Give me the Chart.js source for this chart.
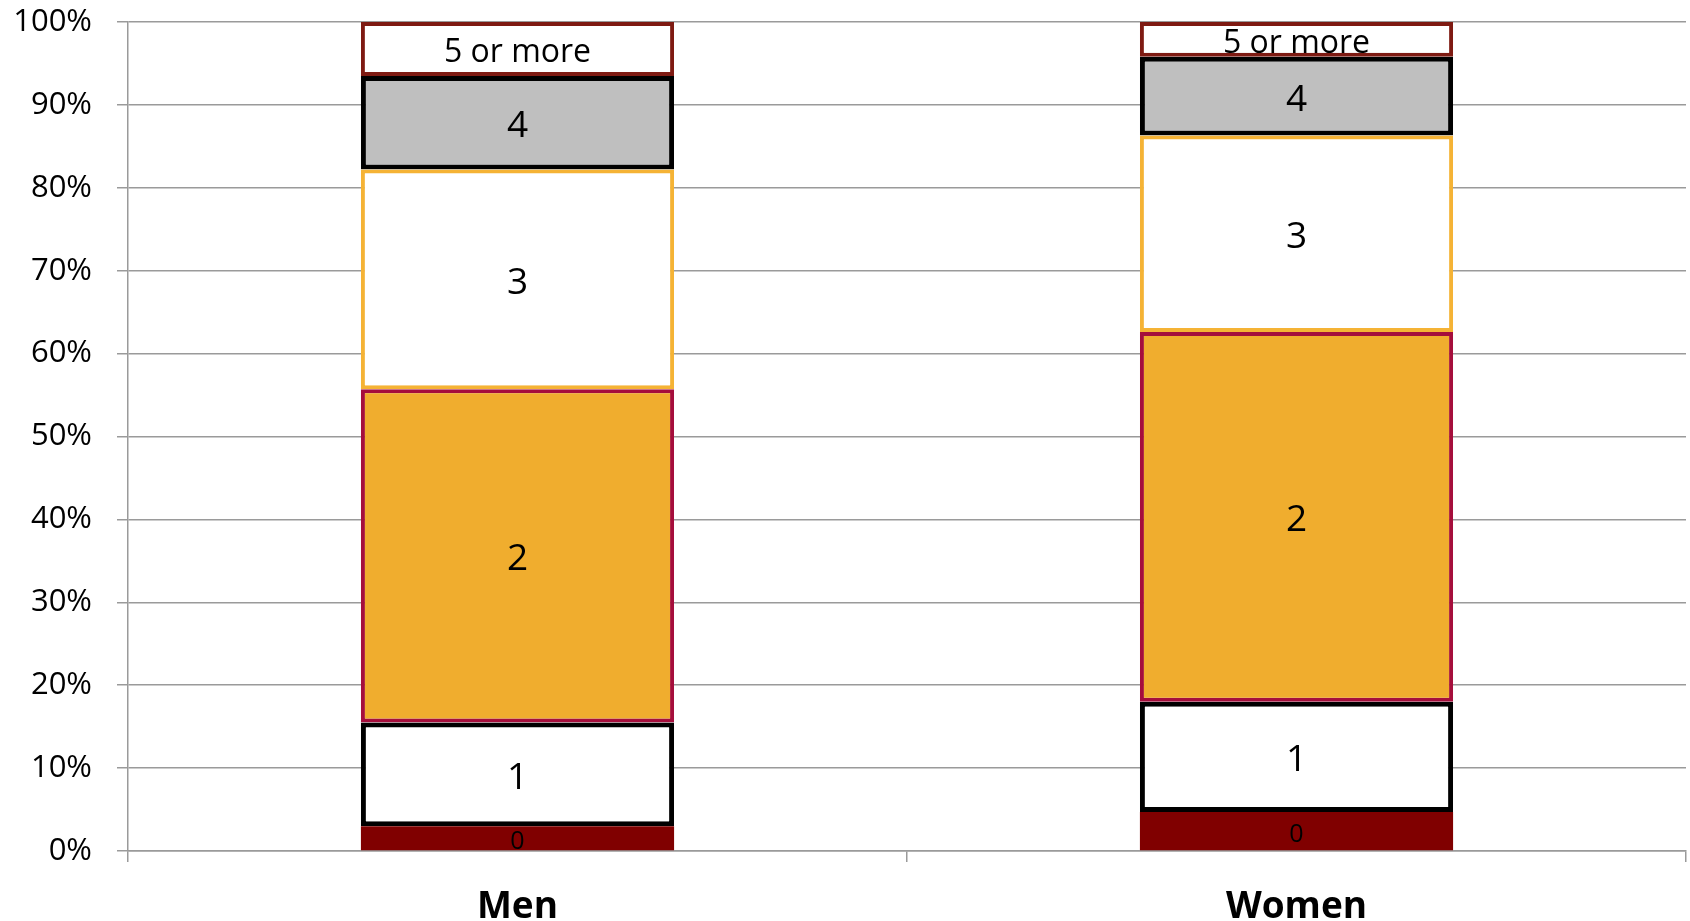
<!DOCTYPE html>
<html>
<head>
<meta charset="utf-8">
<script src="https://cdn.jsdelivr.net/npm/chart.js@4"></script>
<style>
    html, body { margin: 0; padding: 0; background: #fff; }
</style>
</head>
<body>
<canvas id="childrenChart" width="1690" height="921"></canvas>
<script>
// categories and the share (%) of each group
var categories = ['Men', 'Women'];
var segmentLabels = ['0', '1', '2', '3', '4', '5 or more'];
var menValues = [3.0, 12.5, 40.2, 26.5, 11.3, 6.5];
var womenValues = [4.7, 13.3, 44.6, 23.7, 9.5, 4.2];

// look of each segment
var fillColors = ['#800000', '#ffffff', '#F0AD2E', '#ffffff', '#BFBFBF', '#ffffff'];
var borderColors = ['#800000', '#000000', '#A50E3C', '#F5B335', '#000000', '#7E1A12'];
var borderWidths = [0, 5, 4, 4, 5, 4];
var labelSizes = [25, 37, 37, 37, 37, 32];

var gridColor = '#9a9a9a';
var fontFamily = '"Open Sans", sans-serif';

var datasets = segmentLabels.map(function (label, i) {
    return {
        label: label,
        data: [menValues[i], womenValues[i]],
        backgroundColor: fillColors[i],
        borderColor: borderColors[i],
        borderWidth: borderWidths[i],
        borderSkipped: false,
        barPercentage: 0.402,
        categoryPercentage: 1
    };
});

// writes the segment name in the middle of every block
var segmentText = {
    id: 'segmentText',
    afterDatasetsDraw: function (chart) {
        var ctx = chart.ctx;
        ctx.save();
        ctx.fillStyle = '#000';
        ctx.textAlign = 'center';
        ctx.textBaseline = 'middle';
        chart.data.datasets.forEach(function (ds, i) {
            var meta = chart.getDatasetMeta(i);
            ctx.font = labelSizes[i] + 'px ' + fontFamily;
            meta.data.forEach(function (bar) {
                var p = bar.getProps(['x', 'y', 'base'], true);
                ctx.fillText(ds.label, p.x, (p.y + p.base) / 2 + 4);
            });
        });
        ctx.restore();
    }
};

var ctx = document.getElementById('childrenChart').getContext('2d');
var childrenChart = new Chart(ctx, {
    type: 'bar',
    data: {
        labels: categories,
        datasets: datasets
    },
    options: {
        responsive: false,
        animation: false,
        layout: { padding: { top: 22, right: 4, left: 0, bottom: 0 } },
        plugins: {
            legend: { display: false },
            tooltip: { enabled: false }
        },
        scales: {
            x: {
                stacked: true,
                grid: {
                    offset: true,
                    drawOnChartArea: false,
                    drawTicks: true,
                    tickLength: 11,
                    color: gridColor,
                    lineWidth: 1.5
                },
                border: { color: gridColor, width: 1.5 },
                ticks: {
                    color: '#000',
                    padding: 23,
                    font: { family: fontFamily, size: 37, weight: 'bold' }
                },
                afterFit: function (scale) { scale.height = 70; }
            },
            y: {
                stacked: true,
                min: 0,
                max: 100,
                grid: {
                    color: gridColor,
                    lineWidth: 1.5,
                    tickLength: 11
                },
                border: { color: gridColor, width: 1.5 },
                ticks: {
                    stepSize: 10,
                    color: '#000',
                    padding: 25,
                    font: { family: fontFamily, size: 31 },
                    callback: function (value) { return value + '%'; }
                },
                afterFit: function (scale) {
                    scale.width = 128;
                    scale.paddingTop = 0;
                    scale.paddingBottom = 0;
                }
            }
        }
    },
    plugins: [segmentText]
});
</script>
</body>
</html>
